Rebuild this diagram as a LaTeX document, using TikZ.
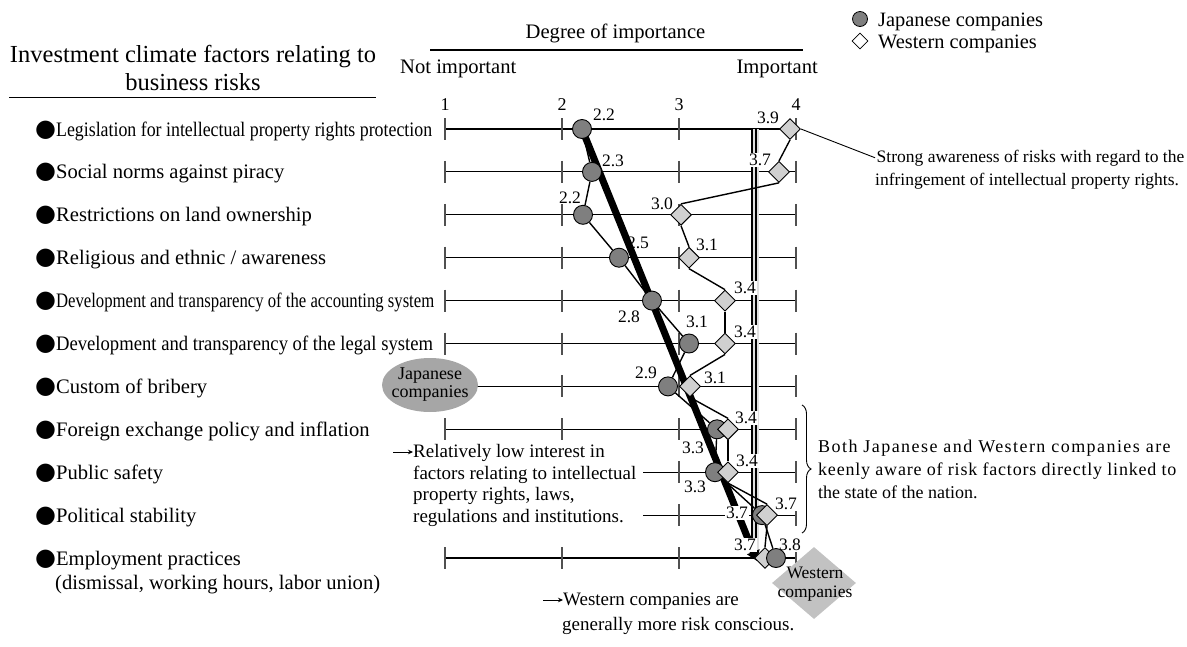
\documentclass[tikz,border=0pt]{standalone}
\usepackage{fontspec}
\usepackage{graphicx}
\setmainfont{Liberation Serif}
\newfontfamily\symfont{DejaVu Sans}
\usetikzlibrary{shapes.geometric,arrows.meta,decorations.pathreplacing}

\definecolor{jgray}{HTML}{7F7F7F}
\definecolor{wgray}{HTML}{D0D0D0}
\definecolor{ellgray}{HTML}{A6A6A6}
\definecolor{diagray}{HTML}{C2C2C2}
\definecolor{tickgray}{HTML}{505050}

\newcommand{\bul}{{\symfont\fontsize{24}{24}\selectfont ●}}

\pgfdeclarelayer{gridlayer}
\pgfdeclarelayer{datalayer}
\pgfdeclarelayer{trendlayer}
\pgfdeclarelayer{labellayer}
\pgfsetlayers{gridlayer,datalayer,trendlayer,labellayer,main}

\tikzset{
  jmark/.style={circle, draw=black, line width=0.9pt, fill=jgray, minimum size=19pt, inner sep=0pt},
  wmark/.style={diamond, draw=black, line width=0.9pt, fill=wgray, minimum width=21pt, minimum height=21pt, inner sep=0pt},
  rowline/.style={line width=1.1pt, black},
  tickmark/.style={line width=1.6pt, tickgray},
  dataline/.style={line width=1.4pt, black},
  val/.style={font=\fontsize{17.5}{18}\selectfont, inner sep=0.8pt},
  valw/.style={val, fill=white},
  rowlab/.style={anchor=base west, font=\fontsize{20.6}{24}\selectfont, inner sep=0pt},
  note/.style={anchor=base west, inner sep=0pt},
}

\begin{document}
\begin{tikzpicture}[x=1pt,y=-1pt]
\useasboundingbox (0,0) rectangle (1187,646);

% ---------- headings ----------
\node[anchor=base, font=\fontsize{24.5}{28}\selectfont, inner sep=0pt] (title1) at (193,62) {Investment climate factors relating to};
\node[anchor=base, font=\fontsize{24.5}{28}\selectfont, inner sep=0pt] (title2) at (193,90) {business risks};
\draw[line width=1.2pt] (9,97.5) -- (376,97.5);

\node[anchor=base, font=\fontsize{20.6}{24}\selectfont, inner sep=0pt] (degree) at (615.5,38) {Degree of importance};
\draw[line width=1.2pt] (430,50) -- (803,50);
\node[note, font=\fontsize{20.6}{24}\selectfont] (notimp) at (400,73) {Not important};
\node[anchor=base east, inner sep=0pt, font=\fontsize{20.6}{24}\selectfont] (imp) at (818,73) {Important};

\foreach \n/\x in {1/445,2/562,3/679,4/796}
  \node[anchor=base, inner sep=0pt, font=\fontsize{18}{18}\selectfont] (tick\n) at (\x,110) {\n};

% ---------- legend ----------
\node[circle, draw=black, line width=0.8pt, fill=jgray, minimum size=15pt, inner sep=0pt] (legj) at (860,19) {};
\node[diamond, draw=black, line width=0.8pt, fill=white, minimum width=16pt, minimum height=16pt, inner sep=0pt] (legw) at (860,41) {};
\node[note, font=\fontsize{20.4}{24}\selectfont] (legjt) at (878,26) {Japanese companies};
\node[note, font=\fontsize{20.4}{24}\selectfont] (legwt) at (878,48) {Western companies};

% ---------- factor labels ----------
\node[rowlab] (f1) at (35,136) {\bul\scalebox{0.866}[1]{Legislation for intellectual property rights protection}};
\node[rowlab] (f2) at (35,178.9) {\bul Social norms against piracy};
\node[rowlab] (f3) at (35,221.8) {\bul Restrictions on land ownership};
\node[rowlab] (f4) at (35,264.7) {\bul Religious and ethnic / awareness};
\node[rowlab] (f5) at (35,307.6) {\bul\scalebox{0.81}[1]{Development and transparency of the accounting system}};
\node[rowlab] (f6) at (35,350.5) {\bul\scalebox{0.905}[1]{Development and transparency of the legal system}};
\node[rowlab] (f7) at (35,393.4) {\bul Custom of bribery};
\node[rowlab] (f8) at (35,436.3) {\bul Foreign exchange policy and inflation};
\node[rowlab] (f9) at (35,479.2) {\bul Public safety};
\node[rowlab] (f10) at (35,522.1) {\bul Political stability};
\node[rowlab] (f11) at (35,565) {\bul Employment practices};
\node[rowlab] (f11b) at (55,589) {(dismissal, working hours, labor union)};

% ---------- notes ----------
\node[note, font=\fontsize{17.5}{23}\selectfont, inner sep=1.5pt] (strong1) at (875,162) {Strong awareness of risks with regard to the};
\node[note, font=\fontsize{17.5}{23}\selectfont] (strong2) at (875,185) {infringement of intellectual property rights.};

\node[note, font=\fontsize{18}{23}\selectfont\addfontfeatures{LetterSpace=8}] (both1) at (818,452) {Both Japanese and Western companies are};
\node[note, font=\fontsize{18}{23}\selectfont\addfontfeatures{LetterSpace=4.4}] (both2) at (818,475) {keenly aware of risk factors directly linked to};
\node[note, font=\fontsize{18}{23}\selectfont] (both3) at (818,498) {the state of the nation.};
\draw[line width=0.9pt, decorate, decoration={brace, amplitude=9pt}] (802,405) -- (802,533);

\node[note, font=\fontsize{19}{22}\selectfont] (low1) at (413,457.5) {Relatively low interest in};
\node[note, font=\fontsize{19}{22}\selectfont] (low2) at (413,479.2) {factors relating to intellectual};
\node[note, font=\fontsize{19}{22}\selectfont] (low3) at (413,500.9) {property rights, laws,};
\node[note, font=\fontsize{19}{22}\selectfont] (low4) at (413,522.6) {regulations and institutions.};
\coordinate (lowarr) at (393,452);
\draw[line width=0.8pt, -{Stealth[length=5pt,width=4.5pt]}] (lowarr) -- (low1.west |- lowarr);

\node[note, font=\fontsize{19}{22}\selectfont] (west1) at (563,605) {Western companies are};
\node[note, font=\fontsize{19}{22}\selectfont] (west2) at (562,630) {generally more risk conscious.};
\coordinate (westarr) at (543,600);
\draw[line width=0.8pt, -{Stealth[length=5pt,width=4.5pt]}] (westarr) -- (west1.west |- westarr);

% ---------- markers ----------
\foreach \x [count=\i] in {582,592,583,619,652,689,668,717,715,762}
  \node[jmark] (j\i) at (\x,{129+42.9*(\i-1)}) {};
\foreach \x [count=\i] in {790,779,681,689,725,725,690,728,728,767,765}
  \node[wmark] (w\i) at (\x,{129+42.9*(\i-1)}) {};
\node[jmark] (j11) at (776,558) {};
\coordinate (trendend) at (757,561);

% ---------- group tags ----------
\node[ellipse, fill=ellgray, minimum width=96pt, minimum height=54pt, inner sep=0pt] (jtag) at (430,385) {};
\node[align=center, font=\fontsize{18}{18}\selectfont, inner sep=0pt] (jtagt) at (jtag.center) {Japanese\\companies};
\node[diamond, fill=diagray, minimum width=84pt, minimum height=72pt, inner sep=0pt] (wtag) at (814,583) {};
\node[align=center, font=\fontsize{17.5}{19}\selectfont, inner sep=0pt] (wtagt) at (815,584) {Western\\companies};

% ---------- scale rows ----------
\begin{pgfonlayer}{gridlayer}
  \foreach \i in {1,...,8,11} {
    \draw[rowline] (445,{129+42.9*(\i-1)}) -- (796,{129+42.9*(\i-1)});
    \foreach \x in {445,562,679,796}
      \draw[tickmark] (\x,{129+42.9*(\i-1)-11}) -- (\x,{129+42.9*(\i-1)+11});
  }
  \foreach \i in {9,10} {
    \draw[rowline] (643,{129+42.9*(\i-1)}) -- (796,{129+42.9*(\i-1)});
    \foreach \x in {679,796}
      \draw[tickmark] (\x,{129+42.9*(\i-1)-11}) -- (\x,{129+42.9*(\i-1)+11});
  }
  % axis break: two dark strokes on a light band
  \draw[line width=8pt, gray!25] (755,129) -- (755,558);
  \draw[line width=2pt, black] (752.3,129) -- (752.3,558);
  \draw[line width=2pt, black] (756.3,129) -- (756.3,558);
\end{pgfonlayer}

% ---------- profile lines ----------
\begin{pgfonlayer}{datalayer}
  \foreach \a/\b in {1/2,2/3,3/4,4/5,5/6,6/7,7/8,8/9,9/10,10/11}
    \draw[dataline] (j\a) -- (j\b);
  \foreach \a/\b in {1/2,2/3,3/4,4/5,5/6,6/7,7/8,8/9,9/10,10/11}
    \draw[dataline] (w\a.south) -- (w\b.north);
  \draw[line width=0.9pt] (w1.east) -- (strong1.west);
  \node[val] (jv4) at (638,243) {2.5};
\end{pgfonlayer}

% ---------- overall trend ----------
\begin{pgfonlayer}{trendlayer}
  \draw[line width=7pt, -{Triangle[length=10pt,width=13pt]}] (j1.center) -- (trendend);
\end{pgfonlayer}

% ---------- value labels ----------
\begin{pgfonlayer}{labellayer}
  \node[val] (jv1) at (604,115) {2.2};
  \node[val] (jv2) at (613,161) {2.3};
  \node[valw] (jv3) at (570,197.5) {2.2};
  \node[valw] (jv5) at (629,317) {2.8};
  \node[valw] (jv6) at (697,322) {3.1};
  \node[valw] (jv7) at (646,373) {2.9};
  \node[val] (jv8) at (693,448) {3.3};
  \node[val] (jv9) at (695,487) {3.3};
  \node[valw] (jv10) at (737,513) {3.7};
  \node[valw] (jv11) at (790,545) {3.8};
  \node[valw] (wv1) at (768,118) {3.9};
  \node[valw] (wv2) at (760,160) {3.7};
  \node[valw] (wv3) at (662,204) {3.0};
  \node[valw] (wv4) at (707,245) {3.1};
  \node[valw] (wv5) at (745,288) {3.4};
  \node[valw] (wv6) at (745,332) {3.4};
  \node[valw] (wv7) at (715,378) {3.1};
  \node[valw] (wv8) at (746,418) {3.4};
  \node[valw] (wv9) at (747,461) {3.4};
  \node[valw] (wv10) at (786,504) {3.7};
  \node[valw] (wv11) at (745,545) {3.7};
\end{pgfonlayer}
\end{tikzpicture}
\end{document}
